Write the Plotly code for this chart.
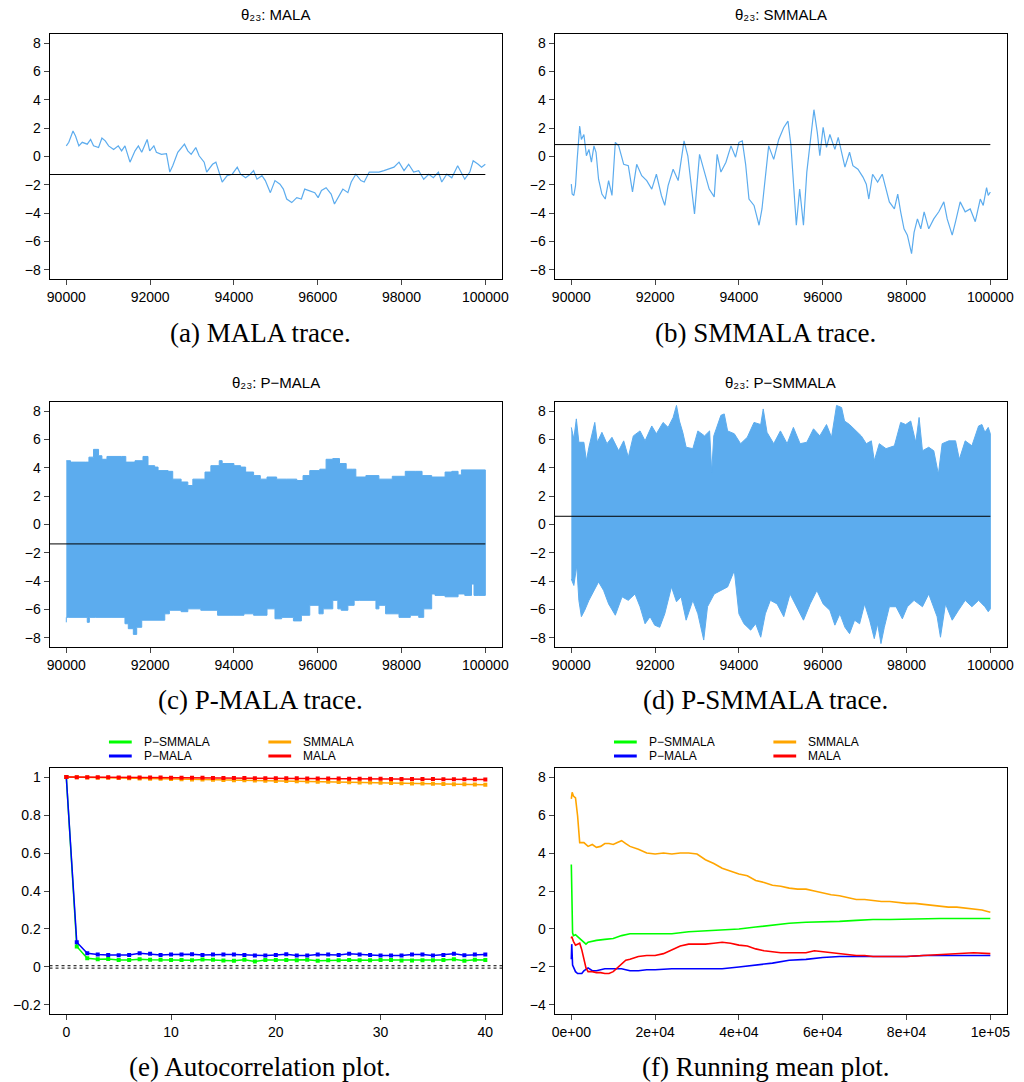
import plotly.graph_objects as go

W, H = 1024, 1082
TRACE_COLOR = "#5CACEE"
SANS = "Liberation Sans, Arial, Helvetica, sans-serif"
SERIF = "Liberation Serif, Times New Roman, serif"

# ---------------- (a) MALA trace ----------------
mala_iter = [90000, 90060, 90160, 90220, 90300, 90380, 90500, 90580, 90650, 90770, 90850, 90930,
             91010, 91130, 91240, 91320, 91400, 91520, 91640, 91720, 91800, 91930, 91990, 92090,
             92150, 92270, 92390, 92470, 92540, 92660, 92820, 92900, 92980, 93090, 93170, 93290,
             93350, 93490, 93570, 93650, 93720, 93840, 93960, 94080, 94160, 94280, 94390, 94470,
             94550, 94670, 94750, 94870, 94980, 95100, 95180, 95260, 95380, 95500, 95610, 95690,
             95810, 95930, 96010, 96090, 96200, 96320, 96400, 96520, 96600, 96720, 96800, 96910,
             97030, 97110, 97230, 97350, 97460, 97580, 97700, 97820, 97940, 98060, 98170, 98290,
             98410, 98530, 98650, 98760, 98880, 98960, 99080, 99200, 99340, 99430, 99510, 99630,
             99710, 99830, 99910, 100000]
mala_val = [0.75, 1.0, 1.8, 1.45, 0.75, 1.0, 0.87, 1.2, 0.75, 0.63, 1.3, 1.1,
            0.75, 0.5, 0.75, 0.4, 0.75, -0.4, 0.4, 0.75, 0.3, 1.2, 0.4, 0.75,
            0.3, 0.15, 0.2, -1.1, -0.65, 0.3, 0.87, 0.4, 0.15, 0.63, 0.05, -0.4,
            -1.1, -0.55, -0.4, -1.1, -1.8, -1.35, -1.25, -0.75, -1.25, -1.5, -1.25, -1.0,
            -1.6, -1.35, -1.7, -2.55, -1.7, -1.95, -2.3, -3.0, -3.25, -2.9, -3.0, -2.3,
            -2.4, -2.55, -2.9, -2.4, -2.2, -2.65, -3.35, -2.75, -2.3, -2.55, -1.8, -1.25,
            -1.7, -1.8, -1.1, -1.1, -1.1, -1.0, -0.9, -0.75, -0.4, -1.0, -0.55, -1.1,
            -1.0, -1.6, -1.25, -1.5, -1.1, -1.8, -1.25, -1.5, -0.65, -1.1, -1.6, -1.1,
            -0.3, -0.55, -0.75, -0.55]

# ---------------- (b) SMMALA trace ----------------
smmala_iter = [90000, 90020, 90060, 90100, 90140, 90200, 90240, 90300, 90360, 90420, 90480, 90540,
               90590, 90650, 90730, 90810, 90890, 90970, 91050, 91130, 91250, 91360, 91460, 91560,
               91680, 91800, 91920, 92030, 92150, 92230, 92310, 92430, 92550, 92690, 92780, 92880,
               92940, 93060, 93180, 93290, 93410, 93480, 93570, 93690, 93810, 93920, 94000, 94080,
               94160, 94240, 94360, 94480, 94550, 94630, 94710, 94830, 94950, 95070, 95170, 95240,
               95300, 95370, 95450, 95540, 95620, 95710, 95790, 95870, 95930, 96010, 96090, 96170,
               96290, 96370, 96450, 96530, 96640, 96720, 96840, 96960, 97040, 97100, 97190, 97310,
               97420, 97510, 97590, 97710, 97790, 97860, 97940, 98020, 98060, 98120, 98180, 98260,
               98340, 98420, 98530, 98650, 98770, 98890, 98970, 99090, 99170, 99280, 99400, 99520,
               99640, 99760, 99830, 99910, 99950, 100000]
smmala_val = [-1.95, -2.65, -2.75, -2.05, -0.2, 2.15, 1.2, 1.55, 0.05, 0.5, -0.4, 0.75,
              0.3, -1.6, -2.65, -3.0, -1.7, -2.75, 1.0, 0.75, -0.55, -0.65, -2.5, -0.55,
              -1.35, -1.7, -2.3, -1.25, -2.75, -3.45, -2.05, -0.9, -1.7, 1.1, 0.05, -2.75,
              -4.05, 0.15, -1.1, -2.3, -2.85, 0.15, -1.1, -0.4, 0.75, -0.05, 1.0, 1.1,
              -0.55, -3.0, -3.45, -4.85, -3.7, -1.7, 0.75, -0.2, 1.2, 2.05, 2.5, 0.85,
              -2.05, -4.85, -2.3, -4.85, -1.1, 1.2, 3.3, 1.7, 0.05, 2.05, 0.65, 1.55,
              0.5, 1.35, 0.3, -0.75, 0.3, -0.65, -0.9, -1.45, -1.95, -3.0, -1.25, -1.8,
              -1.25, -2.3, -3.2, -3.7, -2.65, -3.9, -5.1, -5.55, -6.05, -6.85, -5.35, -4.4,
              -5.1, -3.9, -5.1, -4.4, -3.9, -3.2, -4.4, -5.55, -4.6, -3.2, -3.9, -3.7,
              -4.6, -3.0, -3.45, -2.2, -2.75, -2.5]

# ---------------- (c) P-MALA trace envelope ----------------
pmala_up_iter = [90000, 90100, 90460, 90540, 90650, 90770, 90850, 90970, 91320, 91420, 91640, 91830,
                 91950, 92110, 92190, 92430, 92540, 92740, 92900, 93020, 93210, 93310, 93450, 93650,
                 93720, 94000, 94160, 94280, 94470, 94630, 94790, 95020, 95260, 95500, 95650, 95810,
                 96050, 96200, 96360, 96520, 96680, 96830, 96910, 97150, 97460, 97780, 98090, 98330,
                 98490, 98720, 99040, 99200, 99350, 99430, 100000]
pmala_up = [4.5, 4.4, 4.4, 4.75, 5.3, 4.85, 4.6, 4.8, 4.8, 4.4, 4.5, 4.8,
            4.15, 4.05, 3.8, 3.75, 3.2, 3.0, 2.75, 3.2, 3.2, 3.7, 4.15, 4.5,
            4.3, 4.15, 4.05, 3.7, 3.45, 3.2, 3.35, 3.2, 3.2, 3.1, 3.45, 3.8,
            3.9, 4.6, 4.65, 4.3, 3.9, 3.9, 3.35, 3.45, 3.2, 3.4, 3.75, 3.75,
            3.45, 3.35, 3.7, 3.75, 3.5, 3.85, 3.85]
pmala_lo_iter = [90000, 90060, 90500, 90550, 90690, 91090, 91400, 91480, 91600, 91680, 91800, 91950,
                 92350, 92460, 92740, 92900, 93210, 93610, 94000, 94240, 94470, 94790, 94980, 95140,
                 95420, 95610, 95810, 96030, 96130, 96360, 96480, 96560, 96720, 96870, 96990, 97390,
                 97460, 97620, 97940, 98210, 98410, 98530, 98720, 98800, 99040, 99350, 99510, 99670,
                 99730, 99830, 100000]
pmala_lo = [-6.9, -6.55, -6.55, -6.9, -6.55, -6.55, -6.55, -7.0, -7.35, -7.75, -7.25, -6.75,
            -6.75, -6.3, -6.05, -6.15, -5.95, -6.05, -6.4, -6.4, -6.3, -6.4, -5.95, -6.65,
            -6.55, -6.8, -6.4, -5.7, -6.3, -5.95, -5.35, -5.95, -6.05, -5.7, -5.35, -5.35,
            -5.95, -5.7, -6.3, -6.55, -6.4, -6.55, -5.95, -4.9, -5.0, -5.1, -4.9, -5.0,
            -4.2, -5.0, -5.0]

# ---------------- (d) P-SMMALA trace envelope ----------------
psmmala_up_iter = [90000, 90060, 90120, 90180, 90300, 90360, 90420, 90560, 90620, 90730, 90850, 90970,
                   91130, 91250, 91360, 91480, 91640, 91760, 91920, 92030, 92190, 92310, 92430, 92510,
                   92580, 92660, 92740, 92900, 93020, 93180, 93300, 93350, 93400, 93570, 93650, 93730,
                   93890, 94040, 94200, 94360, 94520, 94580, 94670, 94830, 94990, 95150, 95300, 95460,
                   95620, 95780, 95930, 96090, 96210, 96330, 96450, 96520, 96640, 96800, 96920, 97040,
                   97160, 97230, 97350, 97510, 97710, 97860, 97980, 98100, 98220, 98300, 98380, 98530,
                   98650, 98760, 98850, 99010, 99170, 99260, 99400, 99560, 99720, 99800, 99870, 99950,
                   100000]
psmmala_up = [6.85, 6.05, 7.45, 5.8, 5.8, 4.5, 5.45, 7.2, 5.8, 6.5, 5.7, 6.15,
              5.2, 5.9, 4.75, 6.25, 6.6, 5.9, 6.95, 6.4, 7.2, 6.85, 7.55, 8.4,
              7.3, 6.5, 5.45, 5.35, 6.6, 6.25, 6.6, 3.7, 6.25, 7.7, 7.8, 6.6,
              6.4, 5.7, 6.15, 7.2, 7.05, 8.15, 6.5, 5.7, 6.6, 5.7, 6.85, 5.7,
              5.8, 6.75, 6.25, 7.05, 6.15, 8.4, 8.25, 7.3, 7.05, 6.6, 6.25, 5.7,
              5.9, 4.5, 5.7, 5.35, 5.55, 7.2, 7.05, 7.3, 5.8, 7.55, 5.2, 5.45,
              5.2, 3.55, 5.7, 5.9, 5.9, 4.6, 5.9, 5.55, 6.95, 7.05, 6.5, 6.85,
              6.4]
psmmala_lo_iter = [90000, 90060, 90130, 90180, 90240, 90320, 90420, 90540, 90650, 90770, 90890, 91050,
                   91210, 91360, 91520, 91640, 91760, 91880, 91990, 92110, 92230, 92390, 92510, 92620,
                   92740, 92900, 93020, 93160, 93250, 93410, 93570, 93730, 93890, 94000, 94120, 94280,
                   94400, 94520, 94630, 94750, 94910, 95070, 95220, 95380, 95540, 95700, 95860, 96010,
                   96170, 96290, 96410, 96530, 96640, 96760, 96880, 97000, 97120, 97230, 97310, 97390,
                   97470, 97590, 97750, 97900, 98020, 98180, 98380, 98530, 98650, 98730, 98810, 98930,
                   99090, 99240, 99400, 99560, 99720, 99870, 99950, 100000]
psmmala_lo = [-3.85, -4.3, -2.9, -5.35, -6.5, -6.05, -5.35, -4.65, -4.05, -4.65, -5.6, -6.4,
              -5.1, -5.35, -4.9, -5.8, -7.0, -6.5, -7.1, -7.25, -6.3, -4.4, -5.45, -5.1,
              -6.75, -5.35, -6.3, -8.15, -5.8, -4.9, -4.65, -4.4, -3.25, -6.3, -7.0, -7.45,
              -7.0, -7.95, -6.3, -5.35, -5.6, -6.5, -4.9, -5.8, -6.75, -5.6, -4.65, -5.6,
              -6.05, -7.1, -6.3, -7.25, -7.7, -6.75, -7.0, -5.6, -6.75, -8.05, -7.0, -8.4,
              -7.25, -5.8, -5.8, -6.65, -5.8, -5.35, -5.8, -4.9, -5.8, -6.5, -7.95, -5.6,
              -6.75, -6.05, -5.35, -5.8, -5.35, -5.8, -6.15, -5.95]

# horizontal mean lines of the four trace panels (a, b, c, d)
trace_means = [-1.27, 0.84, -1.37, 0.58]

# ---------------- (e) autocorrelation ----------------
lags = list(range(41))
acf_psmmala = [1.0, 0.108, 0.046, 0.040, 0.042, 0.037, 0.036, 0.040, 0.038, 0.038, 0.037, 0.036,
               0.035, 0.039, 0.038, 0.034, 0.032, 0.038, 0.029, 0.036, 0.037, 0.037, 0.035, 0.038,
               0.032, 0.035, 0.035, 0.036, 0.035, 0.035, 0.037, 0.037, 0.034, 0.034, 0.035, 0.035,
               0.037, 0.040, 0.033, 0.038, 0.037]
acf_pmala = [1.0, 0.130, 0.072, 0.065, 0.063, 0.062, 0.063, 0.072, 0.069, 0.063, 0.065, 0.065,
             0.067, 0.063, 0.065, 0.065, 0.065, 0.063, 0.060, 0.060, 0.063, 0.067, 0.060, 0.060,
             0.065, 0.065, 0.063, 0.070, 0.065, 0.063, 0.060, 0.060, 0.060, 0.065, 0.065, 0.060,
             0.063, 0.069, 0.062, 0.065, 0.065]
acf_smmala = [1.0, 0.999, 0.998, 0.997, 0.996, 0.995, 0.994, 0.993, 0.992, 0.991, 0.990, 0.989,
              0.988, 0.987, 0.986, 0.985, 0.984, 0.983, 0.982, 0.981, 0.980, 0.979, 0.978, 0.977,
              0.976, 0.975, 0.974, 0.973, 0.972, 0.971, 0.970, 0.969, 0.968, 0.967, 0.966, 0.965,
              0.964, 0.963, 0.962, 0.961, 0.960]
acf_mala = [1.0, 0.9997, 0.9994, 0.9991, 0.9988, 0.9985, 0.9982, 0.9979, 0.9976, 0.9973, 0.997,
            0.9967, 0.9964, 0.9961, 0.9958, 0.9955, 0.9952, 0.9949, 0.9946, 0.9943, 0.994, 0.9937,
            0.9934, 0.9931, 0.9928, 0.9925, 0.9922, 0.9919, 0.9916, 0.9913, 0.991, 0.9907, 0.9904,
            0.9901, 0.9898, 0.9895, 0.9892, 0.9889, 0.9886, 0.9883, 0.988]
acf_bounds = [0.0063, -0.0063]

# ---------------- (f) running means ----------------
rm_smmala_x = [1, 200, 500, 1000, 1500, 2000, 3000, 4000, 5000, 6000, 7000, 8000, 9000, 10000,
               11000, 12000, 13000, 14000, 16000, 18000, 20000, 22000, 24000, 26000, 28000, 30000,
               32000, 34000, 36000, 38000, 40000, 42000, 44000, 46000, 48000, 50000, 52000, 54000,
               56000, 58000, 60000, 62000, 64000, 66000, 68000, 70000, 72000, 74000, 76000, 78000,
               80000, 82000, 84000, 86000, 88000, 90000, 92000, 94000, 96000, 98000, 100000]
rm_smmala = [6.85, 7.2, 7.0, 6.9, 5.95, 4.55, 4.55, 4.35, 4.45, 4.3, 4.35, 4.5, 4.5, 4.45,
             4.55, 4.65, 4.5, 4.35, 4.2, 4.0, 3.95, 4.0, 3.95, 4.0, 4.0, 3.95,
             3.65, 3.45, 3.2, 3.05, 2.9, 2.8, 2.55, 2.45, 2.3, 2.25, 2.15, 2.1,
             2.1, 2.0, 1.9, 1.8, 1.75, 1.65, 1.55, 1.55, 1.5, 1.45, 1.45, 1.4,
             1.35, 1.35, 1.3, 1.25, 1.2, 1.15, 1.15, 1.1, 1.05, 1.0, 0.88]
rm_psmmala_x = [1, 100, 300, 500, 1000, 1500, 2000, 3000, 3500, 4000, 6000, 8000, 10000, 12000,
                14000, 16000, 20000, 24000, 28000, 32000, 36000, 40000, 44000, 48000, 52000, 56000,
                60000, 64000, 68000, 72000, 76000, 80000, 84000, 88000, 92000, 96000, 100000]
rm_psmmala = [3.4, 1.0, -0.2, -0.35, -0.3, -0.4, -0.5, -0.7, -0.8, -0.7, -0.6, -0.55, -0.5, -0.35,
              -0.25, -0.25, -0.25, -0.25, -0.15, -0.1, -0.05, 0.0, 0.1, 0.2, 0.3, 0.35,
              0.37, 0.4, 0.45, 0.5, 0.5, 0.52, 0.55, 0.55, 0.55, 0.55, 0.55]
rm_pmala_x = [1, 100, 300, 800, 1000, 1500, 2000, 2500, 3000, 4000, 5000, 6000, 8000, 10000,
              12000, 14000, 16000, 18000, 20000, 24000, 28000, 32000, 36000, 40000, 44000, 48000,
              52000, 56000, 60000, 64000, 68000, 72000, 76000, 80000, 84000, 88000, 92000, 96000,
              100000]
rm_pmala = [-1.6, -0.8, -1.9, -2.2, -2.25, -2.35, -2.35, -2.35, -2.2, -2.05, -2.2, -2.2, -2.1, -2.1,
            -2.1, -2.2, -2.2, -2.15, -2.15, -2.1, -2.1, -2.1, -2.1, -2.0, -1.9, -1.8,
            -1.65, -1.6, -1.5, -1.45, -1.45, -1.45, -1.45, -1.45, -1.4, -1.4, -1.4, -1.4,
            -1.4]
rm_mala_x = [1, 100, 500, 1000, 1500, 2000, 2500, 3000, 3500, 4000, 5000, 6000, 7000, 8000, 9000,
             10000, 11000, 12000, 13000, 14000, 16000, 18000, 20000, 22000, 24000, 26000, 28000,
             30000, 32000, 34000, 36000, 38000, 40000, 42000, 44000, 46000, 48000, 50000, 52000,
             54000, 56000, 58000, 60000, 62000, 64000, 66000, 68000, 70000, 72000, 76000, 80000,
             84000, 88000, 92000, 96000, 100000]
rm_mala = [-0.5, -0.4, -0.65, -0.85, -0.8, -0.75, -1.1, -1.6, -2.05, -2.25, -2.25, -2.3, -2.3,
           -2.35, -2.35, -2.25, -2.05, -1.9, -1.65, -1.6, -1.45, -1.4, -1.4, -1.3, -1.1, -0.9,
           -0.8, -0.8, -0.8, -0.75, -0.7, -0.75, -0.85, -0.9, -1.05, -1.15, -1.2, -1.25, -1.25,
           -1.25, -1.25, -1.15, -1.2, -1.25, -1.3, -1.35, -1.4, -1.4, -1.45, -1.45, -1.45,
           -1.4, -1.35, -1.3, -1.25, -1.3]

method_names = ["P\u2212SMMALA", "P\u2212MALA", "SMMALA", "MALA"]
method_colors = ["#00FF00", "#0000FF", "#FFA500", "#FF0000"]

panel_titles = ["\u03b8\u2082\u2083: MALA", "\u03b8\u2082\u2083: SMMALA",
                "\u03b8\u2082\u2083: P\u2212MALA", "\u03b8\u2082\u2083: P\u2212SMMALA"]
captions = ["(a) MALA trace.", "(b) SMMALA trace.", "(c) P-MALA trace.",
            "(d) P-SMMALA trace.", "(e) Autocorrelation plot.", "(f) Running mean plot."]

trace_xticks = [90000, 92000, 94000, 96000, 98000, 100000]
trace_yticks = [-8, -6, -4, -2, 0, 2, 4, 6, 8]
acf_xticks = [0, 10, 20, 30, 40]
acf_yticks = [-0.2, 0, 0.2, 0.4, 0.6, 0.8, 1]
acf_ytext = ["\u22120.2", "0", "0.2", "0.4", "0.6", "0.8", "1"]
rm_xticks = [0, 20000, 40000, 60000, 80000, 100000]
rm_xtext = ["0e+00", "2e+04", "4e+04", "6e+04", "8e+04", "1e+05"]
rm_yticks = [-4, -2, 0, 2, 4, 6, 8]


def minus(v):
    s = f"{v:g}"
    return s.replace("-", "\u2212")


# ---------------- layout geometry (pixels) ----------------
boxes = {  # left, right, top, bottom
    1: (47, 504, 34, 279),
    2: (557, 1014, 34, 279),
    3: (47, 504, 402, 647),
    4: (557, 1014, 402, 647),
    5: (47, 504, 768, 1014),
    6: (557, 1014, 768, 1014),
}

fig = go.Figure()

axis_common = dict(showline=True, mirror=True, linecolor="black", linewidth=1,
                   ticks="outside", ticklen=5, tickwidth=1, tickcolor="#444",
                   showgrid=False, zeroline=False, fixedrange=True,
                   tickfont=dict(family=SANS, size=14, color="black"))

TR_XR = [89600, 100400]
TR_YR = [-8.64, 8.64]

layout_axes = {}
for i, (l, r, t, b) in boxes.items():
    xs = "" if i == 1 else str(i)
    layout_axes["xaxis" + xs] = dict(axis_common, domain=[l / W, r / W], anchor="y" + xs)
    layout_axes["yaxis" + xs] = dict(axis_common, domain=[1 - b / H, 1 - t / H], anchor="x" + xs)

for i in (1, 2, 3, 4):
    xs = "" if i == 1 else str(i)
    layout_axes["xaxis" + xs].update(range=TR_XR, tickvals=trace_xticks,
                                     ticktext=[str(v) for v in trace_xticks])
    layout_axes["yaxis" + xs].update(range=TR_YR, tickvals=trace_yticks,
                                     ticktext=[minus(v) for v in trace_yticks])
layout_axes["xaxis5"].update(range=[-1.6, 41.6], tickvals=acf_xticks,
                             ticktext=[str(v) for v in acf_xticks])
layout_axes["yaxis5"].update(range=[-0.248, 1.048], tickvals=acf_yticks, ticktext=acf_ytext)
layout_axes["xaxis6"].update(range=[-4000, 104000], tickvals=rm_xticks, ticktext=rm_xtext)
layout_axes["yaxis6"].update(range=[-4.48, 8.48], tickvals=rm_yticks,
                             ticktext=[minus(v) for v in rm_yticks])

# ---------------- traces ----------------
line_traces = [(mala_iter, mala_val, "x", "y"), (smmala_iter, smmala_val, "x2", "y2")]
for xv, yv, xa, ya in line_traces:
    fig.add_trace(go.Scatter(x=xv, y=yv, mode="lines", xaxis=xa, yaxis=ya,
                             line=dict(color=TRACE_COLOR, width=1.2), hoverinfo="skip"))

band_traces = [(pmala_up_iter, pmala_up, pmala_lo_iter, pmala_lo, "x3", "y3", "hv"),
               (psmmala_up_iter, psmmala_up, psmmala_lo_iter, psmmala_lo, "x4", "y4", "linear")]
for ux, uy, lx, ly, xa, ya, shp in band_traces:
    fig.add_trace(go.Scatter(x=ux + lx[::-1], y=uy + ly[::-1], mode="lines", fill="toself",
                             fillcolor=TRACE_COLOR, xaxis=xa, yaxis=ya,
                             line=dict(color=TRACE_COLOR, width=1, shape=shp),
                             hoverinfo="skip"))

for k, (xa, ya) in enumerate([("x", "y"), ("x2", "y2"), ("x3", "y3"), ("x4", "y4")]):
    fig.add_trace(go.Scatter(x=[TR_XR[0], trace_xticks[-1]], y=[trace_means[k]] * 2,
                             mode="lines", xaxis=xa, yaxis=ya,
                             line=dict(color="black", width=1), hoverinfo="skip"))

# (e) autocorrelation
for yb in acf_bounds:
    fig.add_trace(go.Scatter(x=[-1.6, 41.6], y=[yb, yb], mode="lines", xaxis="x5", yaxis="y5",
                             line=dict(color="black", width=1, dash="dot"), hoverinfo="skip"))
acfs = [acf_psmmala, acf_pmala, acf_smmala, acf_mala]
for vals, col in zip(acfs, method_colors):
    fig.add_trace(go.Scatter(x=lags, y=vals, mode="lines+markers", xaxis="x5", yaxis="y5",
                             line=dict(color=col, width=1.5),
                             marker=dict(symbol="square", size=4, color=col),
                             hoverinfo="skip"))

# (f) running means
rms = [(rm_psmmala_x, rm_psmmala), (rm_pmala_x, rm_pmala), (rm_smmala_x, rm_smmala),
       (rm_mala_x, rm_mala)]
for (xv, yv), col in zip(rms, method_colors):
    fig.add_trace(go.Scatter(x=xv, y=yv, mode="lines", xaxis="x6", yaxis="y6",
                             line=dict(color=col, width=1.6), hoverinfo="skip"))

# ---------------- annotations: titles, captions, legends ----------------
annotations = []
shapes = []
for i in (1, 2, 3, 4):
    l, r, t, b = boxes[i]
    annotations.append(dict(text=panel_titles[i - 1], x=(l + r) / 2 / W, y=1 - (t - 19) / H,
                            xref="paper", yref="paper", showarrow=False,
                            xanchor="center", yanchor="middle",
                            font=dict(family=SANS, size=15, color="black")))

cap_pos = [(260, 333), (770, 333), (260, 700), (770, 700), (260, 1067), (770, 1067)]
for txt, (cx, cy) in zip(captions, cap_pos):
    annotations.append(dict(text=txt, x=cx / W, y=1 - cy / H, xref="paper", yref="paper",
                            showarrow=False, xanchor="center", yanchor="middle",
                            font=dict(family=SERIF, size=27, color="black")))

legend_slots = [(0, 0), (0, 1), (1, 0), (1, 1)]  # (column, row) for each method
for x_col0, x_col1 in [(107, 268), (617, 778)]:
    for (col, row), name, color in zip(legend_slots, method_names, method_colors):
        x0 = x_col0 if col == 0 else x_col1
        yy = 742 + 14 * row
        shapes.append(dict(type="line", xref="paper", yref="paper",
                           x0=x0 / W, x1=(x0 + 23) / W, y0=1 - yy / H, y1=1 - yy / H,
                           line=dict(color=color, width=3)))
        annotations.append(dict(text=name, x=(x0 + 33) / W, y=1 - yy / H, xref="paper",
                                yref="paper", showarrow=False, xanchor="left",
                                yanchor="middle",
                                font=dict(family=SANS, size=12, color="black")))

fig.update_layout(
    width=W, height=H, margin=dict(l=0, r=0, t=0, b=0),
    paper_bgcolor="white", plot_bgcolor="white", showlegend=False,
    annotations=annotations, shapes=shapes, **layout_axes,
)

fig.write_html("out.html", config={"displayModeBar": False},
               post_script="document.body.style.margin='0';")
